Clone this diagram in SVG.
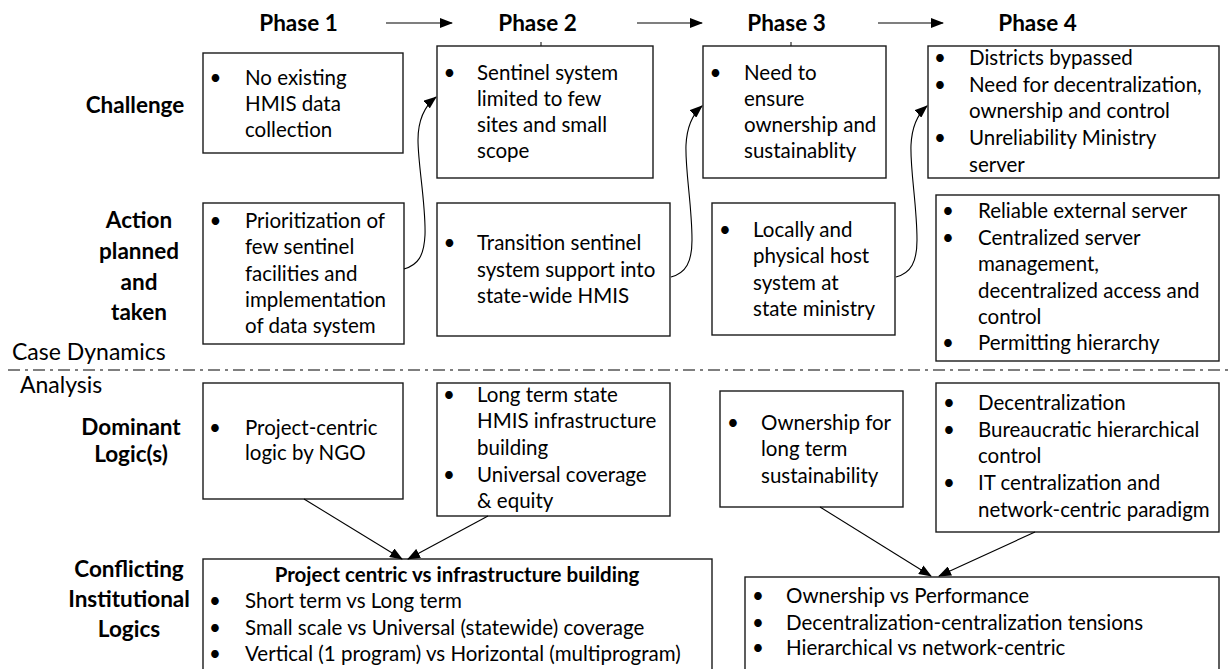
<svg xmlns="http://www.w3.org/2000/svg" width="1231" height="669" viewBox="0 0 1231 669">
<defs>
<marker id="ah" viewBox="0 0 13 10" refX="12" refY="5" markerWidth="13" markerHeight="10" markerUnits="userSpaceOnUse" orient="auto">
<path d="M0,0 L13,5 L0,10 Z" fill="#000"/>
</marker>
<style>
.box{fill:#fff;stroke:#1a1a1a;stroke-width:1.4}
.t{font-family:Lato,"Liberation Sans",sans-serif;font-size:20.5px;fill:#000}
.b{text-anchor:middle}
.h{font-family:Lato,"Liberation Sans",sans-serif;font-size:22.5px;font-weight:bold;fill:#000;text-anchor:middle}
.st{font-family:Lato,"Liberation Sans",sans-serif;font-size:20.5px;font-weight:bold;fill:#000;text-anchor:middle}
.sec{font-family:Lato,"Liberation Sans",sans-serif;font-size:23px;fill:#000}
.c{fill:none;stroke:#000;stroke-width:1.1}
</style>
</defs>
<rect width="1231" height="669" fill="#fff"/>

<g id="headers">
<text class="h" x="298.5" y="31">Phase 1</text>
<text class="h" x="537.5" y="31">Phase 2</text>
<text class="h" x="786.5" y="31">Phase 3</text>
<text class="h" x="1037.5" y="31">Phase 4</text>
<line x1="541" y1="42" x2="541" y2="46" stroke="#000" stroke-width="1"/>
<line x1="791" y1="42" x2="791" y2="46" stroke="#000" stroke-width="1"/>
</g>

<g id="row-labels">
<text class="h" x="135" y="113">Challenge</text>
<text class="h" x="139" y="228">Action</text>
<text class="h" x="139" y="259">planned</text>
<text class="h" x="139" y="290">and</text>
<text class="h" x="139" y="320">taken</text>
<text class="h" x="131" y="435">Dominant</text>
<text class="h" x="131" y="462">Logic(s)</text>
<text class="h" x="129" y="577">Conflicting</text>
<text class="h" x="129" y="607">Institutional</text>
<text class="h" x="129" y="637">Logics</text>
</g>

<g id="divider">
<text class="sec" x="12" y="360">Case Dynamics</text>
<line x1="8" y1="370" x2="1231" y2="370" stroke="#000" stroke-width="1.1" stroke-dasharray="12 5 3 5"/>
<text class="sec" x="20" y="393">Analysis</text>
</g>

<g id="b1">
<rect class="box" x="203" y="53" width="200" height="100"/>
<text class="t b" x="215.5" y="85">•</text>
<text class="t" x="245" y="85">No existing</text>
<text class="t" x="245" y="111">HMIS data</text>
<text class="t" x="245" y="137">collection</text>
</g>

<g id="b2">
<rect class="box" x="437" y="46" width="216" height="132"/>
<text class="t b" x="449.5" y="80">•</text>
<text class="t" x="477" y="80">Sentinel system</text>
<text class="t" x="477" y="106">limited to few</text>
<text class="t" x="477" y="132">sites and small</text>
<text class="t" x="477" y="158">scope</text>
</g>

<g id="b3">
<rect class="box" x="703" y="46" width="183" height="132"/>
<text class="t b" x="715.5" y="80">•</text>
<text class="t" x="744" y="80">Need to</text>
<text class="t" x="744" y="106">ensure</text>
<text class="t" x="744" y="132">ownership and</text>
<text class="t" x="744" y="158">sustainablity</text>
</g>

<g id="b4">
<rect class="box" x="928" y="46" width="291" height="132"/>
<text class="t b" x="940" y="65">•</text>
<text class="t" x="969" y="65">Districts bypassed</text>
<text class="t b" x="940" y="92">•</text>
<text class="t" x="969" y="92">Need for decentralization,</text>
<text class="t" x="969" y="118">ownership and control</text>
<text class="t b" x="940" y="145">•</text>
<text class="t" x="969" y="145">Unreliability Ministry</text>
<text class="t" x="969" y="172">server</text>
</g>

<g id="b5">
<rect class="box" x="203" y="203" width="201" height="141"/>
<text class="t b" x="215.5" y="228">•</text>
<text class="t" x="245" y="228">Prioritization of</text>
<text class="t" x="245" y="254">few sentinel</text>
<text class="t" x="245" y="281">facilities and</text>
<text class="t" x="245" y="307">implementation</text>
<text class="t" x="245" y="333">of data system</text>
</g>

<g id="b6">
<rect class="box" x="437" y="203" width="233" height="133"/>
<text class="t b" x="449.5" y="250">•</text>
<text class="t" x="477" y="250">Transition sentinel</text>
<text class="t" x="477" y="277">system support into</text>
<text class="t" x="477" y="303">state-wide HMIS</text>
</g>

<g id="b7">
<rect class="box" x="712" y="203" width="183" height="132"/>
<text class="t b" x="725" y="237">•</text>
<text class="t" x="753" y="237">Locally and</text>
<text class="t" x="753" y="263">physical host</text>
<text class="t" x="753" y="290">system at</text>
<text class="t" x="753" y="316">state ministry</text>
</g>

<g id="b8">
<rect class="box" x="936" y="195" width="283" height="166"/>
<text class="t b" x="948" y="218">•</text>
<text class="t" x="978" y="218">Reliable external server</text>
<text class="t b" x="948" y="245">•</text>
<text class="t" x="978" y="245">Centralized server</text>
<text class="t" x="978" y="271">management,</text>
<text class="t" x="978" y="298">decentralized access and</text>
<text class="t" x="978" y="324">control</text>
<text class="t b" x="948" y="350">•</text>
<text class="t" x="978" y="350">Permitting hierarchy</text>
</g>

<g id="b9">
<rect class="box" x="203" y="383" width="200" height="116"/>
<text class="t b" x="215" y="435">•</text>
<text class="t" x="245" y="435">Project-centric</text>
<text class="t" x="245" y="460">logic by NGO</text>
</g>

<g id="b10">
<rect class="box" x="437" y="383" width="233" height="133"/>
<text class="t b" x="449" y="402">•</text>
<text class="t" x="477" y="402">Long term state</text>
<text class="t" x="477" y="428">HMIS infrastructure</text>
<text class="t" x="477" y="455">building</text>
<text class="t b" x="449" y="482">•</text>
<text class="t" x="477" y="482">Universal coverage</text>
<text class="t" x="477" y="508">&amp; equity</text>
</g>

<g id="b11">
<rect class="box" x="203" y="559" width="509" height="120"/>
<text class="st" x="457" y="582">Project centric vs infrastructure building</text>
<text class="t b" x="215" y="608">•</text>
<text class="t" x="245" y="608">Short term vs Long term</text>
<text class="t b" x="215" y="635">•</text>
<text class="t" x="245" y="635">Small scale vs Universal (statewide) coverage</text>
<text class="t b" x="215" y="661">•</text>
<text class="t" x="245" y="661">Vertical (1 program) vs Horizontal (multiprogram)</text>
</g>

<g id="b12">
<rect class="box" x="720" y="391" width="183" height="116"/>
<text class="t b" x="733" y="430">•</text>
<text class="t" x="761" y="430">Ownership for</text>
<text class="t" x="761" y="456">long term</text>
<text class="t" x="761" y="483">sustainability</text>
</g>

<g id="b13">
<rect class="box" x="936" y="383" width="283" height="149"/>
<text class="t b" x="949" y="410">•</text>
<text class="t" x="978" y="410">Decentralization</text>
<text class="t b" x="949" y="437">•</text>
<text class="t" x="978" y="437">Bureaucratic hierarchical</text>
<text class="t" x="978" y="463">control</text>
<text class="t b" x="949" y="490">•</text>
<text class="t" x="978" y="490">IT centralization and</text>
<text class="t" x="978" y="517">network-centric paradigm</text>
</g>

<g id="b14">
<rect class="box" x="745" y="577" width="474" height="100"/>
<text class="t b" x="758" y="603">•</text>
<text class="t" x="786" y="603">Ownership vs Performance</text>
<text class="t b" x="758" y="630">•</text>
<text class="t" x="786" y="630">Decentralization-centralization tensions</text>
<text class="t b" x="758" y="655">•</text>
<text class="t" x="786" y="655">Hierarchical vs network-centric</text>
</g>

<g id="connectors">
<line class="c" x1="386" y1="23" x2="452" y2="23" marker-end="url(#ah)"/>
<line class="c" x1="637" y1="23" x2="702" y2="23" marker-end="url(#ah)"/>
<line class="c" x1="878" y1="23" x2="943" y2="23" marker-end="url(#ah)"/>
<path class="c" d="M404,269 C418,265 424,256 425,235 C426,205 418,165 418,140 C418,118 426,105 436,97" marker-end="url(#ah)"/>
<path class="c" d="M671,277 C686,273 692,262 692,240 C692,205 685,170 686,145 C687,125 694,113 702,106" marker-end="url(#ah)"/>
<path class="c" d="M896,277 C911,273 917,262 917,240 C917,205 910,170 911,145 C912,125 919,113 927,106" marker-end="url(#ah)"/>
<line class="c" x1="304" y1="499" x2="402" y2="559" marker-end="url(#ah)"/>
<line class="c" x1="488" y1="516" x2="408" y2="559" marker-end="url(#ah)"/>
<line class="c" x1="820" y1="507" x2="931" y2="576" marker-end="url(#ah)"/>
<line class="c" x1="1035" y1="532" x2="939" y2="576" marker-end="url(#ah)"/>
</g>
</svg>
